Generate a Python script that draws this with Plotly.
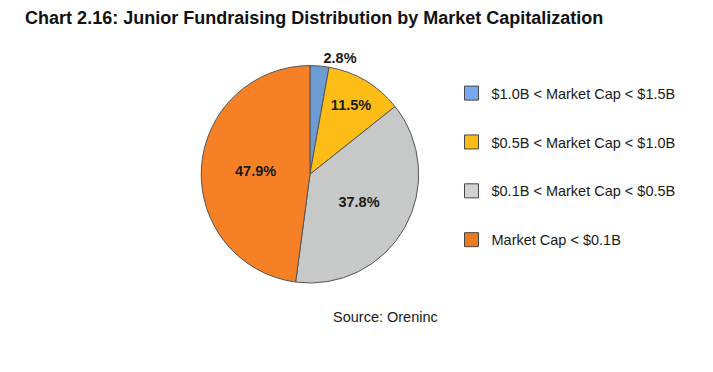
import plotly.graph_objects as go

labels = ["$1.0B < Market Cap < $1.5B", "$0.5B < Market Cap < $1.0B",
          "$0.1B < Market Cap < $0.5B", "Market Cap < $0.1B"]
values = [2.8, 11.5, 37.8, 47.9]
slice_colors = ["#6c9cd3", "#fdbd16", "#c7c8c8", "#f58025"]
legend_colors = ["#79a8f2", "#fdbb17", "#d2d2d2", "#ea7a20"]
text_pos = ["outside", "inside", "inside", "inside"]

fig = go.Figure()
fig.add_trace(go.Pie(
    labels=labels, values=values, sort=False, direction="clockwise", rotation=0,
    marker=dict(colors=slice_colors, line=dict(color="#555555", width=1)),
    texttemplate="%{value:.1f}%", textposition=text_pos,
    textfont=dict(family="Liberation Sans", size=14.5, color="#1a1a1a", weight="bold"),
    insidetextorientation="horizontal",
    showlegend=False, hoverinfo="label+value",
    domain=dict(x=[0.271, 0.576], y=[0.260, 0.846]),
))
for i, (lab, col) in enumerate(zip(labels, legend_colors)):
    fig.add_trace(go.Scatter(
        x=[None], y=[None], mode="markers", name=lab, legendgroup=f"g{i}",
        marker=dict(symbol="square", size=14, color=col, line=dict(color="#444444", width=1)),
    ))

fig.update_layout(
    width=713, height=372, margin=dict(l=0, r=0, t=0, b=0),
    paper_bgcolor="white", plot_bgcolor="white",
    xaxis=dict(visible=False), yaxis=dict(visible=False),
    font=dict(family="Liberation Sans", color="#1a1a1a"),
    title=dict(text="<b>Chart 2.16: Junior Fundraising Distribution by Market Capitalization</b>",
               x=0.024, xanchor="left", y=0.974, yanchor="middle",
               font=dict(size=18, color="#111111", family="Liberation Sans")),
    legend=dict(x=0.622, y=0.814, xanchor="left", yanchor="top",
                font=dict(size=14.5, color="#1a1a1a"), tracegroupgap=27,
                itemwidth=30, bgcolor="rgba(0,0,0,0)"),
    annotations=[dict(text="Source: Oreninc", x=0.530, y=0.1695, xref="paper", yref="paper",
                      showarrow=False, xanchor="center", yanchor="middle",
                      font=dict(size=14.5, color="#1a1a1a"))],
)
fig.write_html("out.html")
